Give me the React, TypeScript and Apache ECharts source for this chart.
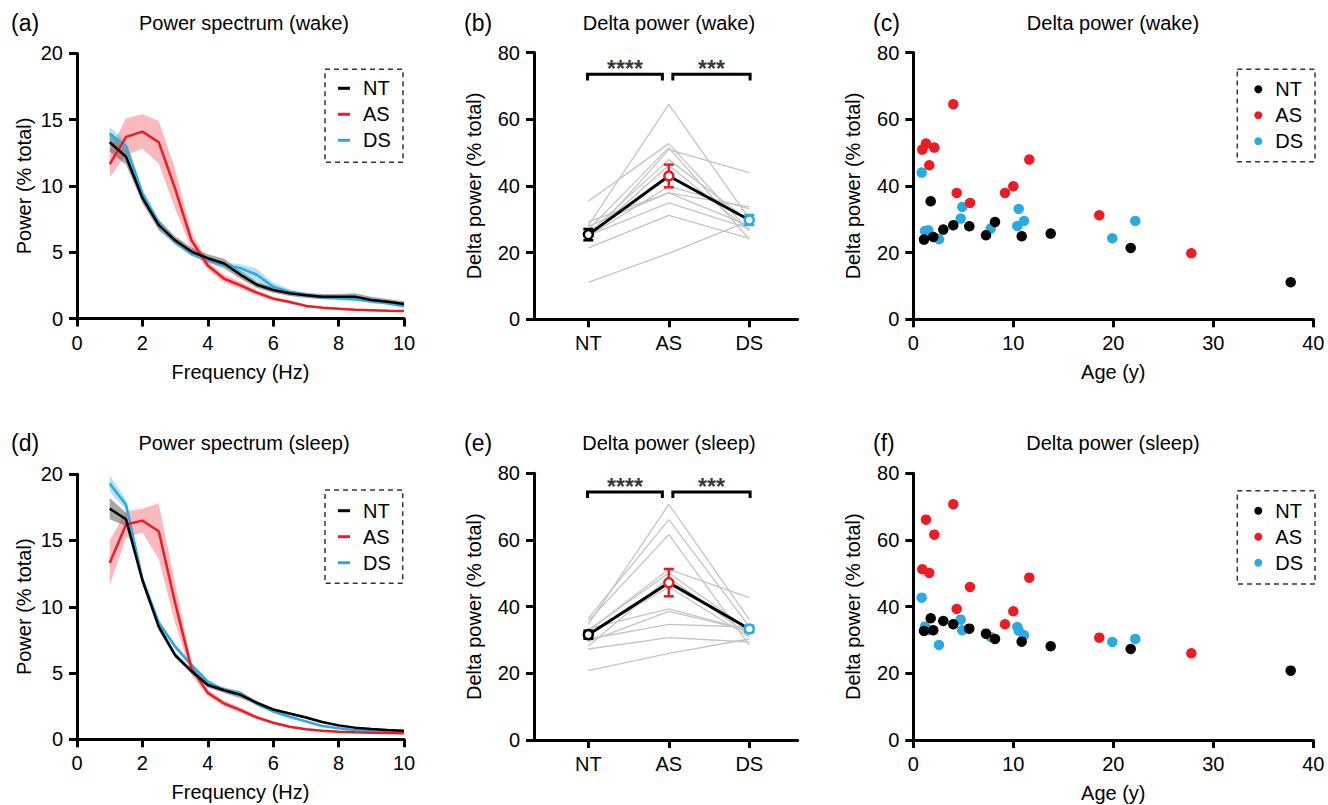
import React, { useEffect, useRef } from 'react';
import * as echarts from 'echarts';

const FONT = '"Liberation Sans", Arial, Helvetica, sans-serif';

const groups = ['NT', 'AS', 'DS'];
const groupColors = ['#000000', '#ed1c24', '#29abe2'];
const bandColors = ['rgba(0,0,0,0.35)', 'rgba(237,28,36,0.3)', 'rgba(41,171,226,0.35)'];

// ---- power spectra ----
const freq = [1, 1.5, 2, 2.5, 3, 3.5, 4, 4.5, 5, 5.5, 6, 6.5, 7, 7.5, 8, 8.5, 9, 9.5, 10];

const ntWakeSpec = [13.3, 12.2, 9.1, 7.05, 5.9, 5.05, 4.55, 4.15, 3.3, 2.55, 2.15, 1.9, 1.75, 1.65, 1.65, 1.65, 1.4, 1.27, 1.1];
const asWakeSpec = [11.65, 13.7, 14.1, 13.3, 9.8, 5.9, 4.0, 3.0, 2.5, 1.95, 1.5, 1.25, 0.95, 0.82, 0.74, 0.66, 0.62, 0.58, 0.57];
const dsWakeSpec = [13.95, 13.0, 9.45, 7.2, 5.8, 4.9, 4.45, 4.05, 3.8, 3.3, 2.4, 2.0, 1.77, 1.6, 1.52, 1.45, 1.35, 1.15, 0.95];
const ntWakeSem = [0.7, 0.6, 0.4, 0.4, 0.3, 0.3, 0.3, 0.35, 0.3, 0.25, 0.2, 0.2, 0.2, 0.2, 0.2, 0.25, 0.25, 0.2, 0.2];
const asWakeSem = [1.0, 1.4, 1.3, 1.6, 1.5, 0.6, 0.3, 0.3, 0.25, 0.2, 0.15, 0.12, 0.1, 0.1, 0.08, 0.08, 0.08, 0.08, 0.08];
const dsWakeSem = [0.5, 0.4, 0.3, 0.3, 0.2, 0.2, 0.2, 0.2, 0.3, 0.45, 0.3, 0.2, 0.15, 0.15, 0.15, 0.15, 0.15, 0.15, 0.15];

const ntSleepSpec = [17.4, 16.6, 12.0, 8.5, 6.35, 5.15, 4.1, 3.7, 3.35, 2.75, 2.25, 1.95, 1.65, 1.3, 1.05, 0.88, 0.78, 0.7, 0.65];
const asSleepSpec = [13.3, 16.2, 16.5, 15.7, 10.3, 5.35, 3.5, 2.7, 2.2, 1.65, 1.25, 0.95, 0.75, 0.65, 0.57, 0.53, 0.5, 0.48, 0.45];
const dsSleepSpec = [19.3, 17.7, 12.1, 8.8, 7.0, 5.6, 4.35, 3.7, 3.45, 2.65, 2.1, 1.7, 1.35, 1.0, 0.83, 0.7, 0.63, 0.58, 0.55];
const ntSleepSem = [0.8, 0.5, 0.3, 0.3, 0.2, 0.2, 0.2, 0.2, 0.25, 0.15, 0.1, 0.1, 0.1, 0.08, 0.08, 0.06, 0.06, 0.05, 0.05];
const asSleepSem = [1.7, 1.0, 0.9, 2.1, 1.5, 0.5, 0.25, 0.2, 0.2, 0.15, 0.1, 0.08, 0.06, 0.05, 0.05, 0.05, 0.05, 0.05, 0.05];
const dsSleepSem = [0.6, 0.4, 0.3, 0.2, 0.2, 0.2, 0.15, 0.15, 0.2, 0.1, 0.1, 0.1, 0.08, 0.06, 0.05, 0.05, 0.05, 0.05, 0.05];

// ---- individual delta power (sorted by age; same index = matched triplet) ----
const ntAge = [1.07, 1.74, 2.0, 3.0, 4.0, 5.6, 7.27, 8.17, 10.84, 13.74, 21.74, 37.74];
const asAge = [0.9, 1.27, 1.6, 2.1, 4.0, 4.34, 5.67, 9.17, 10.0, 11.6, 18.6, 27.8];
const dsAge = [0.84, 1.17, 1.5, 2.57, 4.74, 4.9, 7.74, 10.4, 10.54, 11.07, 19.9, 22.2];

const ntWake = [23.9, 35.4, 24.7, 26.9, 28.2, 27.9, 25.2, 29.2, 24.9, 25.7, 21.4, 11.1];
const asWake = [50.9, 52.7, 46.2, 51.5, 64.5, 37.9, 34.9, 37.9, 39.9, 47.9, 31.2, 19.8];
const dsWake = [44.0, 26.5, 26.7, 24.0, 30.2, 33.7, 27.2, 28.0, 33.1, 29.5, 24.3, 29.5];

const ntSleep = [32.7, 36.5, 32.9, 35.7, 34.7, 33.4, 31.9, 30.3, 29.5, 28.1, 27.3, 20.8];
const asSleep = [51.2, 66.1, 50.1, 61.6, 70.7, 39.3, 45.9, 34.7, 38.6, 48.7, 30.7, 26.0];
const dsSleep = [42.7, 34.0, 33.0, 28.5, 36.1, 32.9, 30.9, 33.9, 32.8, 31.4, 29.4, 30.3];

// group means and SEM (NT, AS, DS)
const meanWake = [25.4, 43.0, 29.8];
const semWake = [1.7, 3.4, 1.5];
const meanSleep = [31.6, 47.2, 33.3];
const semSleep = [1.2, 4.1, 1.0];

// significance brackets
const bracketSpans = [[0.99, 1.92], [2.05, 3.01]];
const bracketLabels = ['****', '***'];
const bracketWake = { top: 73.5, leg: 71.6, star: 75.0 };
const bracketSleep = { top: 74.4, leg: 72.6, star: 76.0 };

const spectrumTicksY = { min: 0, max: 20, interval: 5 };
const deltaTicksY = { min: 0, max: 80, interval: 20 };
const freqTicks = { min: 0, max: 10, interval: 2 };
const ageTicks = { min: 0, max: 40, interval: 10 };

const axisBase = {
  axisLine: { show: true, onZero: false, lineStyle: { color: '#000', width: 3 } },
  axisTick: { show: true, length: 8, lineStyle: { color: '#000', width: 3 } },
  splitLine: { show: false },
  nameTextStyle: { color: '#000', fontSize: 20, fontFamily: FONT },
};

function xAxisValue(gi: number, ticks: any, name?: string) {
  return {
    ...axisBase,
    type: 'value',
    gridIndex: gi,
    min: ticks.min,
    max: ticks.max,
    interval: ticks.interval,
    name: name || '',
    nameLocation: 'middle',
    nameGap: 43,
    axisLabel: { color: '#000', fontSize: 20, fontFamily: FONT, margin: 14 },
  };
}

function xAxisGroups(gi: number) {
  return {
    ...axisBase,
    type: 'value',
    gridIndex: gi,
    min: 0.325,
    max: 3.6,
    axisTick: { ...axisBase.axisTick, customValues: [1, 2, 3] },
    axisLabel: {
      color: '#000', fontSize: 20, fontFamily: FONT, margin: 14,
      customValues: [1, 2, 3],
      formatter: (v: number) => {
        const r = Math.round(v);
        return Math.abs(v - r) < 1e-6 && groups[r - 1] ? groups[r - 1] : '';
      },
    },
  };
}

function yAxis(gi: number, ticks: any, name: string, gap: number) {
  return {
    ...axisBase,
    type: 'value',
    gridIndex: gi,
    min: ticks.min,
    max: ticks.max,
    interval: ticks.interval,
    name,
    nameLocation: 'middle',
    nameGap: gap,
    axisLabel: { color: '#000', fontSize: 20, fontFamily: FONT, margin: 14 },
  };
}

function spectrumSeries(ai: number, means: number[][], sems: number[][]) {
  const out: any[] = [];
  means.forEach((m, g) => {
    const s = sems[g];
    out.push({
      type: 'custom',
      xAxisIndex: ai,
      yAxisIndex: ai,
      silent: true,
      z: 1,
      data: [[freq[0], m[0]]],
      encode: { x: 0, y: 1 },
      renderItem: (_p: any, api: any) => {
        const upper = freq.map((f, i) => api.coord([f, m[i] + s[i]]));
        const lower = freq.map((f, i) => api.coord([f, m[i] - s[i]])).reverse();
        return { type: 'polygon', shape: { points: upper.concat(lower) }, style: { fill: bandColors[g] } };
      },
    });
  });
  [2, 1, 0].forEach((g) => {
    out.push({
      type: 'line',
      name: groups[g],
      xAxisIndex: ai,
      yAxisIndex: ai,
      data: freq.map((f, i) => [f, means[g][i]]),
      color: groupColors[g],
      lineStyle: { width: 2.5, color: groupColors[g] },
      symbol: 'none',
      z: 3,
    });
  });
  return out;
}

function pairedSeries(ai: number, nt: number[], as: number[], ds: number[], mean: number[], sem: number[], br: any) {
  const out: any[] = [];
  nt.forEach((_v, i) => {
    out.push({
      type: 'line',
      xAxisIndex: ai,
      yAxisIndex: ai,
      data: [[1, nt[i]], [2, as[i]], [3, ds[i]]],
      symbol: 'none',
      silent: true,
      lineStyle: { color: '#c4c4c4', width: 1.3 },
      z: 2,
    });
  });
  out.push({
    type: 'line',
    xAxisIndex: ai,
    yAxisIndex: ai,
    data: mean.map((m, i) => [i + 1, m]),
    symbol: 'none',
    lineStyle: { color: '#000', width: 3 },
    z: 3,
  });
  out.push({
    type: 'custom',
    xAxisIndex: ai,
    yAxisIndex: ai,
    z: 4,
    data: mean.map((m, i) => [i + 1, m, sem[i]]),
    encode: { x: 0, y: 1 },
    renderItem: (p: any, api: any) => {
      const x = api.value(0), m = api.value(1), s = api.value(2);
      const t = api.coord([x, m + s]);
      const b = api.coord([x, m - s]);
      const st = { stroke: groupColors[p.dataIndex], lineWidth: 2.5 };
      return {
        type: 'group',
        children: [
          { type: 'line', shape: { x1: t[0], y1: t[1], x2: b[0], y2: b[1] }, style: st },
          { type: 'line', shape: { x1: t[0] - 5, y1: t[1], x2: t[0] + 5, y2: t[1] }, style: st },
          { type: 'line', shape: { x1: b[0] - 5, y1: b[1], x2: b[0] + 5, y2: b[1] }, style: st },
        ],
      };
    },
  });
  out.push({
    type: 'scatter',
    xAxisIndex: ai,
    yAxisIndex: ai,
    z: 5,
    symbolSize: 9,
    itemStyle: { color: '#fff', borderWidth: 2.5, opacity: 1 },
    data: mean.map((m, i) => ({ value: [i + 1, m], itemStyle: { color: '#fff', borderColor: groupColors[i], borderWidth: 2.5, opacity: 1 } })),
  });
  bracketSpans.forEach((sp, k) => {
    out.push({
      type: 'line',
      xAxisIndex: ai,
      yAxisIndex: ai,
      data: [[sp[0], br.leg], [sp[0], br.top], [sp[1], br.top], [sp[1], br.leg]],
      symbol: 'none',
      silent: true,
      lineStyle: { color: '#000', width: 3, join: 'miter' },
      z: 3,
    });
    out.push({
      type: 'scatter',
      xAxisIndex: ai,
      yAxisIndex: ai,
      silent: true,
      symbolSize: 1,
      itemStyle: { color: 'rgba(0,0,0,0)' },
      label: { show: true, position: 'inside', formatter: bracketLabels[k], color: '#000', fontSize: 23, fontWeight: 'bold', fontFamily: FONT },
      data: [[(sp[0] + sp[1]) / 2, br.star]],
      z: 3,
    });
  });
  return out;
}

function scatterSeries(ai: number, vals: number[][]) {
  const ages = [ntAge, asAge, dsAge];
  return [2, 1, 0].map((g) => ({
    type: 'scatter',
    name: groups[g],
    xAxisIndex: ai,
    yAxisIndex: ai,
    symbolSize: 10.5,
    color: groupColors[g],
    itemStyle: { color: groupColors[g], opacity: 1 },
    data: ages[g].map((a, i) => [a, vals[g][i]]),
    z: 3 + (2 - g),
  }));
}

function legendLines(left: number, top: number) {
  return {
    data: groups, orient: 'vertical', left, top, padding: 0, itemGap: 6,
    icon: 'rect', itemWidth: 12, itemHeight: 3, selectedMode: false,
    textStyle: { fontSize: 20, lineHeight: 20, fontFamily: FONT, color: '#000', padding: [0, 0, 0, 8] },
  };
}
function legendDots(left: number, top: number) {
  return {
    data: groups, orient: 'vertical', left, top, padding: 0, itemGap: 6,
    icon: 'circle', itemWidth: 8, itemHeight: 8, selectedMode: false,
    itemStyle: { opacity: 1 },
    textStyle: { fontSize: 20, lineHeight: 20, fontFamily: FONT, color: '#000', padding: [0, 0, 0, 8] },
  };
}

function txt(text: string, x: number, y: number, size: number, align: string) {
  return {
    type: 'text', x, y, silent: true,
    style: { text, fontSize: size, fontFamily: FONT, fill: '#000', align, verticalAlign: 'middle', textAlign: align, textVerticalAlign: 'middle' },
  };
}
function dashBox(x: number, y: number, w: number, h: number) {
  return { type: 'rect', silent: true, shape: { x, y, width: w, height: h }, style: { fill: 'none', stroke: '#333', lineWidth: 1.5, lineDash: [5, 4] } };
}

export default function App() {
  const ref = useRef<HTMLDivElement>(null);
  useEffect(() => {
    if (!ref.current) return;
    const chart = echarts.init(ref.current, undefined, { renderer: 'svg' });
    const gridBase = { containLabel: false, outerBoundsMode: 'none' };
    const option: any = {
      animation: false,
      backgroundColor: '#fff',
      grid: [
        { ...gridBase, left: 77, top: 53.4, width: 327, height: 265.1 },
        { ...gridBase, left: 534, top: 52.6, width: 263.6, height: 266.7 },
        { ...gridBase, left: 913.3, top: 52.6, width: 400, height: 266.7 },
        { ...gridBase, left: 77, top: 474.2, width: 327, height: 265.1 },
        { ...gridBase, left: 534, top: 473.3, width: 263.6, height: 266.7 },
        { ...gridBase, left: 913.3, top: 473.3, width: 400, height: 266.7 },
      ],
      xAxis: [
        xAxisValue(0, freqTicks, 'Frequency (Hz)'),
        xAxisGroups(1),
        xAxisValue(2, ageTicks, 'Age (y)'),
        xAxisValue(3, freqTicks, 'Frequency (Hz)'),
        xAxisGroups(4),
        xAxisValue(5, ageTicks, 'Age (y)'),
      ],
      yAxis: [
        yAxis(0, spectrumTicksY, 'Power (% total)', 43),
        yAxis(1, deltaTicksY, 'Delta power (% total)', 50),
        yAxis(2, deltaTicksY, 'Delta power (% total)', 50),
        yAxis(3, spectrumTicksY, 'Power (% total)', 43),
        yAxis(4, deltaTicksY, 'Delta power (% total)', 50),
        yAxis(5, deltaTicksY, 'Delta power (% total)', 50),
      ],
      legend: [
        legendLines(338, 78.3),
        legendLines(338, 500.7),
        legendDots(1254.3, 79.3),
        legendDots(1254.3, 500.7),
      ],
      graphic: {
        elements: [
          txt('(a)', 11, 23, 23, 'left'),
          txt('(b)', 464, 23, 23, 'left'),
          txt('(c)', 873, 23, 23, 'left'),
          txt('(d)', 11, 443, 23, 'left'),
          txt('(e)', 464, 443, 23, 'left'),
          txt('(f)', 873, 443, 23, 'left'),
          txt('Power spectrum (wake)', 244, 23, 20, 'center'),
          txt('Delta power (wake)', 669, 23, 20, 'center'),
          txt('Delta power (wake)', 1113, 23, 20, 'center'),
          txt('Power spectrum (sleep)', 244, 443, 20, 'center'),
          txt('Delta power (sleep)', 669, 443, 20, 'center'),
          txt('Delta power (sleep)', 1113, 443, 20, 'center'),
          dashBox(325, 69.3, 78, 93),
          dashBox(1237.3, 69.3, 77.7, 92.4),
          dashBox(325, 490, 77.7, 93.3),
          dashBox(1237.3, 490.7, 77.7, 93.3),
        ],
      },
      series: [
        ...spectrumSeries(0, [ntWakeSpec, asWakeSpec, dsWakeSpec], [ntWakeSem, asWakeSem, dsWakeSem]),
        ...pairedSeries(1, ntWake, asWake, dsWake, meanWake, semWake, bracketWake),
        ...scatterSeries(2, [ntWake, asWake, dsWake]),
        ...spectrumSeries(3, [ntSleepSpec, asSleepSpec, dsSleepSpec], [ntSleepSem, asSleepSem, dsSleepSem]),
        ...pairedSeries(4, ntSleep, asSleep, dsSleep, meanSleep, semSleep, bracketSleep),
        ...scatterSeries(5, [ntSleep, asSleep, dsSleep]),
      ],
    };
    chart.setOption(option);
    return () => chart.dispose();
  }, []);
  return <div ref={ref} style={{ position: 'fixed', left: 0, top: 0, width: 1328, height: 805 }} />;
}
